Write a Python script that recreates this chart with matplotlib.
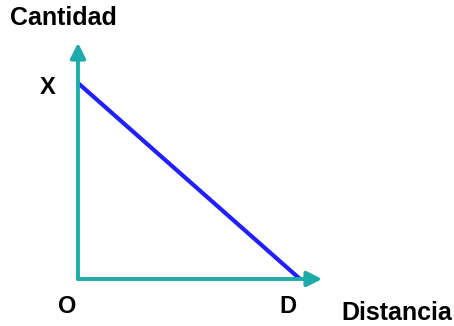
import matplotlib.pyplot as plt

# data: straight decline from X (at O) to zero (at D)
distancia = [0, 1]
cantidad = [1, 0]
x_labels = ["O", "D"]
y_label = "X"

teal = "#1cadaa"
blue = "#1f1fff"
font = ["Liberation Sans", "DejaVu Sans"]

W, H = 454, 326
fig = plt.figure(figsize=(W / 100, H / 100), dpi=100)

# axes frame in pixels: origin (78, 279), x=1 at 300, y=1 at 83
x0, y0, x1, y1 = 78, 279, 300, 83
ax = fig.add_axes([x0 / W, (H - y0) / H, (x1 - x0) / W, (y0 - y1) / H])
ax.set_xlim(0, 1)
ax.set_ylim(0, 1)
ax.axis("off")

# axis arrows
arrow = dict(arrowstyle="-|>,head_length=1.0,head_width=0.5", color=teal,
             lw=2.8, shrinkA=0, shrinkB=0, mutation_scale=9)
ax.annotate("", xy=(1.1, 0), xytext=(0, 0), xycoords="data",
            arrowprops=arrow, annotation_clip=False)
ax.annotate("", xy=(0, 1.205), xytext=(0, 0), xycoords="data",
            arrowprops=arrow, annotation_clip=False)

ax.plot(distancia, cantidad, color=blue, lw=3, solid_capstyle="butt", clip_on=False)

# labels
tkw = dict(family=font, fontweight="bold", fontsize=17, ha="center", va="center")
ax.text(distancia[0] - 0.05, -0.14, x_labels[0], **tkw)
ax.text(distancia[1] - 0.055, -0.14, x_labels[1], **tkw)
ax.text(-0.135, cantidad[0] - 0.025, y_label, **tkw)

fig.text(63 / W, 1 - 18 / H, "Cantidad", family=font, fontweight="bold",
         fontsize=18, ha="center", va="center")
fig.text(397 / W, 1 - 313 / H, "Distancia", family=font, fontweight="bold",
         fontsize=18, ha="center", va="center")

fig.savefig("out.png", dpi=100)
